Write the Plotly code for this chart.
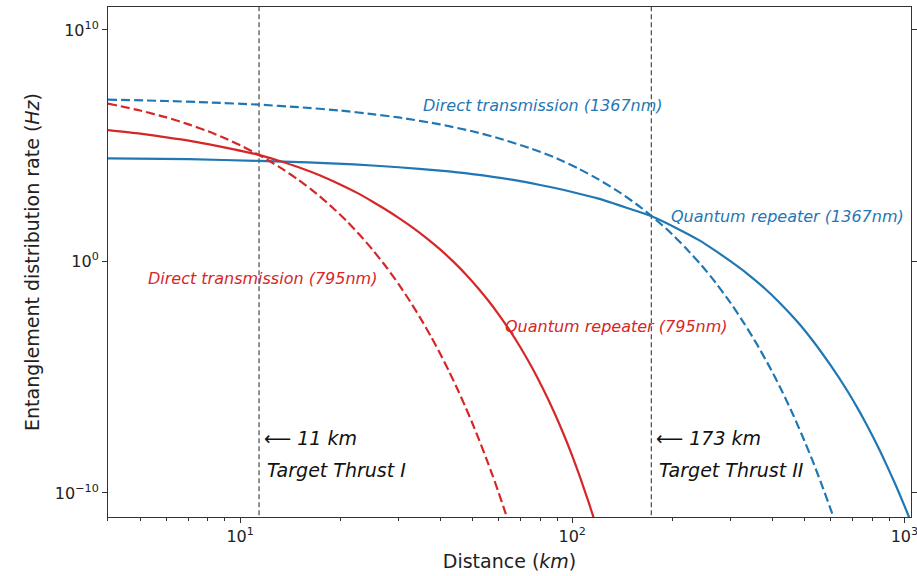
import plotly.graph_objects as go

# ---- data (distance in km, rate in Hz) ----
dt795_km = [4, 5, 6, 7, 8, 9, 10, 11, 12, 13.5, 15, 17, 19, 21, 23, 25, 27.5, 30,
            32.5, 35, 37.5, 40, 42.5, 45, 47.5, 50, 52.5, 55, 57.5, 60, 62.5, 65]
dt795_rate = [6.6e6, 3.3e6, 1.66e6, 8.3e5, 4.2e5, 2.1e5, 1.05e5, 5.2e4, 2.6e4, 9.3e3,
              3.3e3, 832, 209, 52.5, 13.2, 3.3, 0.589, 0.105,
              1.86e-2, 3.3e-3, 5.9e-4, 1.05e-4, 1.86e-5, 3.3e-6, 5.9e-7, 1.05e-7,
              1.86e-8, 3.3e-9, 5.9e-10, 1.05e-10, 1.86e-11, 3.3e-12]

qr795_km = [4, 5, 6, 7, 8, 9.5, 11.4, 13, 15, 17.5, 20, 22.5, 25, 27.5, 30, 33, 36,
            40, 44, 48, 52, 56, 60, 64, 70, 76, 82, 88, 94, 100, 106, 112, 118]
qr795_rate = [4.7e5, 3.3e5, 2.3e5, 1.66e5, 1.17e5, 7.1e4, 4.0e4, 2.3e4, 1.17e4, 5.0e3,
              2.1e3, 912, 389, 170, 76, 29.5, 11.5, 3.3, 0.93, 0.26, 7.16e-2, 1.95e-2,
              5.2e-3, 1.38e-3, 1.82e-4, 2.3e-5, 2.8e-6, 3.3e-7, 3.7e-8, 4.0e-9,
              4.0e-10, 4.0e-11, 4.0e-12]

dt1367_km = [4, 6, 8, 11.4, 15, 20, 25, 30, 40, 50, 60, 75, 90, 105, 120, 140, 160,
             174, 195, 220, 245, 270, 300, 330, 360, 395, 430, 465, 500, 535, 570,
             605, 630]
dt1367_rate = [9.8e6, 8.5e6, 7.4e6, 5.9e6, 4.6e6, 3.3e6, 2.3e6, 1.66e6, 8.3e5, 4.2e5,
               2.1e5, 7.6e4, 2.8e4, 9.8e3, 3.5e3, 890, 229, 87, 21, 3.7, 0.68, 0.123,
               1.58e-2, 2.0e-3, 2.6e-4, 2.4e-5, 2.2e-6, 2.0e-7, 1.8e-8, 1.66e-9,
               1.5e-10, 1.4e-11, 2.5e-12]

qr1367_km = [4, 7, 11.4, 16, 22, 30, 40, 50, 65, 80, 100, 120, 145, 174, 211, 240,
             266, 300, 336, 380, 424, 480, 533, 600, 671, 720, 760, 800, 847, 890,
             940, 990, 1035, 1070]
qr1367_rate = [2.8e4, 2.6e4, 2.2e4, 1.9e4, 1.55e4, 1.17e4, 8.3e3, 5.9e3, 3.5e3, 2.0e3,
               1.0e3, 513, 214, 87, 23, 8.5, 3.3, 1.0, 0.30, 6.8e-2, 1.5e-2, 2.2e-3,
               3.4e-4, 3.2e-5, 2.8e-6, 5.1e-7, 1.26e-7, 3.1e-8, 6.0e-9, 1.3e-9,
               2.3e-10, 4.0e-11, 8.3e-12, 2.0e-12]

target_km = [11.4, 173]
vline_span = [1e-12, 1e12]

x_tickvals = [10, 100, 1000]
x_ticktext = ["10<sup>1</sup>", "10<sup>2</sup>", "10<sup>3</sup>"]
x_minor = [4, 5, 6, 7, 8, 9, 20, 30, 40, 50, 60, 70, 80, 90,
           200, 300, 400, 500, 600, 700, 800, 900]
y_tickvals = [1e-10, 1, 1e10]
y_ticktext = ["10<sup>\u221210</sup>", "10<sup>0</sup>", "10<sup>10</sup>"]

RED = "#d62728"
BLUE = "#1f77b4"
FONT = "DejaVu Sans"

fig = go.Figure()

for xv in target_km:
    fig.add_trace(go.Scatter(x=[xv, xv], y=vline_span, mode="lines",
                             line=dict(color="#3a3a3a", width=1.1, dash="5px,3px"),
                             hoverinfo="skip"))

fig.add_trace(go.Scatter(x=dt1367_km, y=dt1367_rate, mode="lines",
                         line=dict(color=BLUE, width=2.2, dash="9px,4px",
                                   shape="spline", smoothing=0.6)))
fig.add_trace(go.Scatter(x=qr1367_km, y=qr1367_rate, mode="lines",
                         line=dict(color=BLUE, width=2.2, shape="spline", smoothing=0.6)))
fig.add_trace(go.Scatter(x=dt795_km, y=dt795_rate, mode="lines",
                         line=dict(color=RED, width=2.2, dash="9px,4px",
                                   shape="spline", smoothing=0.6)))
fig.add_trace(go.Scatter(x=qr795_km, y=qr795_rate, mode="lines",
                         line=dict(color=RED, width=2.2, shape="spline", smoothing=0.6)))

# plot area in pixels: left 108, right 911, top 7, bottom 517
def px(xp):
    return (xp - 108) / 803.0

def py(yp):
    return (517 - yp) / 510.0

labels = [
    ("<i>Direct transmission (1367nm)</i>", 422, 106, BLUE, 16),
    ("<i>Quantum repeater (1367nm)</i>", 670, 216, BLUE, 16),
    ("<i>Direct transmission (795nm)</i>", 147, 278, RED, 16),
    ("<i>Quantum repeater (795nm)</i>", 504, 326, RED, 16),
    ("\u27f5 <i>11 km</i>", 263, 438, "#111", 19),
    ("<i>Target Thrust I</i>", 266, 470, "#111", 19),
    ("\u27f5 <i>173 km</i>", 655, 438, "#111", 19),
    ("<i>Target Thrust II</i>", 658, 470, "#111", 19),
]
for txt, xx, yy, col, sz in labels:
    fig.add_annotation(text=txt, x=px(xx), y=py(yy), xref="paper", yref="paper",
                       xanchor="left", yanchor="middle", showarrow=False,
                       borderpad=0, font=dict(family=FONT, size=sz, color=col))

axis_common = dict(showline=True, linecolor="#333", linewidth=1, ticks="outside",
                   ticklen=5, tickwidth=1, tickcolor="#333", showgrid=False,
                   zeroline=False, automargin=False, ticklabeloverflow="allow",
                   tickfont=dict(family=FONT, size=16, color="#222"))

fig.update_layout(
    width=917, height=576,
    margin=dict(l=108, r=6, t=7, b=59),
    paper_bgcolor="white", plot_bgcolor="white",
    showlegend=False,
    xaxis=dict(type="log", range=[0.6021, 3.02], mirror=True,
               tickvals=x_tickvals, ticktext=x_ticktext,
               minor=dict(tickvals=x_minor, ticks="outside", ticklen=3,
                          tickcolor="#333", showgrid=False),
               title=dict(text="Distance (<i>km</i>)", standoff=9,
                          font=dict(family=FONT, size=19, color="#222")),
               **axis_common),
    yaxis=dict(type="log", range=[-11.04, 10.99], mirror="ticks",
               tickvals=y_tickvals, ticktext=y_ticktext,
               title=dict(text="Entanglement distribution rate (<i>Hz</i>)", standoff=10,
                          font=dict(family=FONT, size=19, color="#222")),
               **axis_common),
)

fig.write_html("out.html", config={"displayModeBar": False},
               post_script="document.body.style.margin='0';document.body.style.overflow='hidden';")
